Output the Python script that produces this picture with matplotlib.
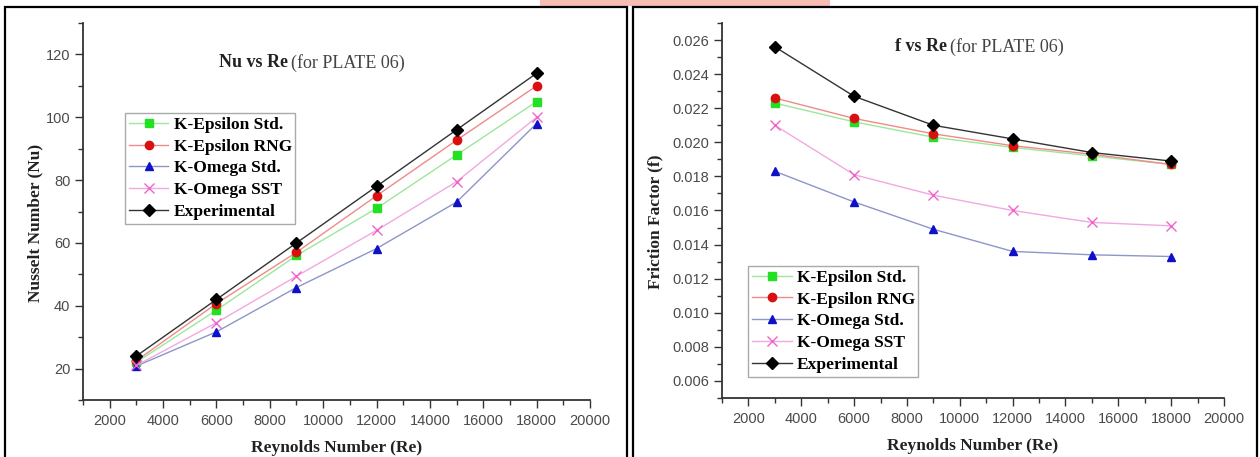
import matplotlib as mpl
mpl.use('Agg')
import matplotlib.pyplot as plt
from matplotlib.patches import Rectangle

mpl.rcParams['font.family'] = ['Liberation Serif', 'DejaVu Serif']

# Data
reynolds = [3000, 6000, 9000, 12000, 15000, 18000]
series_names = ['K-Epsilon Std.', 'K-Epsilon RNG', 'K-Omega Std.', 'K-Omega SST', 'Experimental']

nu_keps_std = [22, 38.6, 56, 71, 88, 105]
nu_keps_rng = [22.5, 40.7, 57, 75, 92.7, 110]
nu_komg_std = [20.8, 31.7, 45.8, 58.2, 73, 98]
nu_komg_sst = [21, 34.6, 49.4, 64, 79.5, 100]
nu_exp = [24, 42, 60, 78, 96, 114]

f_keps_std = [0.0223, 0.0212, 0.0203, 0.0197, 0.0192, 0.0187]
f_keps_rng = [0.0226, 0.0214, 0.0205, 0.0198, 0.0193, 0.0187]
f_komg_std = [0.0183, 0.0165, 0.0149, 0.0136, 0.0134, 0.0133]
f_komg_sst = [0.0210, 0.0181, 0.0169, 0.0160, 0.0153, 0.0151]
f_exp = [0.0256, 0.0227, 0.0210, 0.0202, 0.0194, 0.0189]

# styles: marker colour, line colour, marker
styles = [('#22e022', '#9be89b', 's'),
          ('#d81010', '#f08a8a', 'o'),
          ('#1010c8', '#8c96c8', '^'),
          ('#ee66cc', '#f2a8e0', 'x'),
          ('#000000', '#333333', 'D')]

fig = plt.figure(figsize=(12.6, 4.57), dpi=100)

# faint watermark strip at the top
fig.add_artist(Rectangle((540 / 1260, 1 - 6 / 457), 290 / 1260, 6 / 457, transform=fig.transFigure,
                         facecolor='#f7bcb4', edgecolor='none', zorder=0))

# panel borders
fig.add_artist(Rectangle((5 / 1260, -0.05), 622 / 1260, 1 - 7 / 457 + 0.05, transform=fig.transFigure,
                         fill=False, edgecolor='black', linewidth=1.6))
fig.add_artist(Rectangle((633 / 1260, -0.05), 624 / 1260, 1 - 7 / 457 + 0.05, transform=fig.transFigure,
                         fill=False, edgecolor='black', linewidth=1.6))

ax1 = fig.add_axes([83 / 1260, 1 - 400 / 457, 507 / 1260, 377 / 457])
ax2 = fig.add_axes([722 / 1260, 1 - 398 / 457, 502 / 1260, 375 / 457])

tick_font = {'family': 'Liberation Sans', 'size': 10.5, 'color': '#4a4a4a'}
label_font = {'size': 12.5, 'weight': 'bold', 'color': '#222222'}
legend_kw = dict(loc='upper left', borderaxespad=0, fancybox=False, edgecolor='#aaaaaa',
                 framealpha=1, handlelength=2.3, handletextpad=0.3, labelspacing=0.33,
                 borderpad=0.2, prop={'weight': 'bold', 'size': 12.5})


def draw(ax, data):
    for vals, name, (mc, lc, mk) in zip(data, series_names, styles):
        ms = 6 if mk != 'x' else 6.5
        ax.plot(reynolds, vals, color=lc, linewidth=1.0, marker=mk, markersize=ms,
                markerfacecolor=mc, markeredgecolor=mc, markeredgewidth=1.0, label=name)
    for s in ['top', 'right']:
        ax.spines[s].set_visible(False)
    for s in ['left', 'bottom']:
        ax.spines[s].set_linewidth(1.3)
        ax.spines[s].set_color('#333333')
    ax.set_xlim(1000, 20000)
    ax.set_xticks(range(2000, 20001, 2000))
    ax.set_xticks(range(1000, 20001, 1000), minor=True)
    ax.tick_params(which='major', direction='out', length=6, width=1, color='#333333', pad=3)
    ax.tick_params(which='minor', direction='out', length=3.5, width=1, color='#333333')
    ax.tick_params(axis='x', pad=4)
    ax.set_xlabel('Reynolds Number (Re)', fontdict=label_font, labelpad=9)


def style_ticklabels(ax):
    for lab in ax.get_xticklabels() + ax.get_yticklabels():
        lab.set_family(tick_font['family'])
        lab.set_fontsize(tick_font['size'])
        lab.set_color(tick_font['color'])


# Left: Nusselt number
draw(ax1, [nu_keps_std, nu_keps_rng, nu_komg_std, nu_komg_sst, nu_exp])
ax1.set_ylim(10, 130)
ax1.set_yticks(range(20, 121, 20))
ax1.set_yticks(range(10, 131, 10), minor=True)
style_ticklabels(ax1)
ax1.set_ylabel('Nusselt Number (Nu)', fontdict=label_font)
ax1.yaxis.set_label_coords(-0.079, 0.47)
ax1.text(0.404, 0.894, 'Nu vs Re', transform=ax1.transAxes, ha='right', va='center',
         fontsize=13, fontweight='bold', color='#222222')
ax1.text(0.41, 0.894, '(for PLATE 06)', transform=ax1.transAxes, ha='left', va='center',
         fontsize=13, color='#444444')
ax1.legend(bbox_to_anchor=(0.083, 0.761), **legend_kw)

# Right: friction factor
draw(ax2, [f_keps_std, f_keps_rng, f_komg_std, f_komg_sst, f_exp])
ax2.set_ylim(0.005, 0.027)
ax2.set_yticks([0.006 + 0.002 * i for i in range(11)])
ax2.set_yticks([0.005 + 0.001 * i for i in range(23)], minor=True)
ax2.yaxis.set_major_formatter(mpl.ticker.FormatStrFormatter('%.3f'))
style_ticklabels(ax2)
ax2.set_ylabel('Friction Factor (f)', fontdict=label_font)
ax2.yaxis.set_label_coords(-0.116, 0.469)
ax2.text(0.448, 0.936, 'f vs Re', transform=ax2.transAxes, ha='right', va='center',
         fontsize=13, fontweight='bold', color='#222222')
ax2.text(0.454, 0.936, '(for PLATE 06)', transform=ax2.transAxes, ha='left', va='center',
         fontsize=13, color='#444444')
ax2.legend(bbox_to_anchor=(0.052, 0.352), **legend_kw)

plt.savefig('out.png', dpi=100)
